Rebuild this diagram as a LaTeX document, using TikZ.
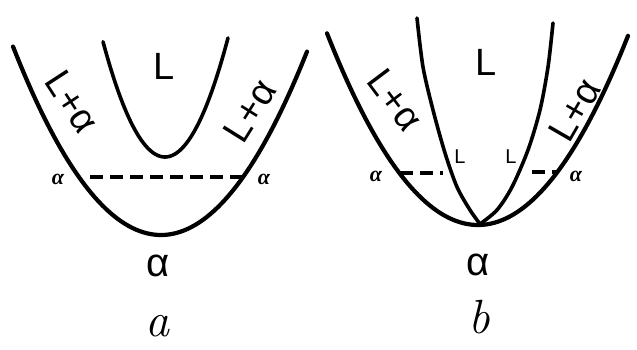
\documentclass[tikz,border=0pt]{standalone}
\usepackage{fontspec}
\newfontfamily\phasefont{Liberation Sans}
\newfontfamily\pointfont{Liberation Serif}
\begin{document}
\begin{tikzpicture}[
    x=0.5pt, y=-0.5pt,
    liquidus/.style={line width=1.8pt, line cap=round},
    solidus/.style={line width=2.1pt, line cap=round},
    tieline/.style={line width=2pt, dash pattern=on 6.5pt off 3.5pt},
    phase/.style={font=\phasefont\fontsize{19}{19}\selectfont, inner sep=0pt},
    region/.style={font=\phasefont\fontsize{20}{20}\selectfont, inner sep=0pt},
    endpt/.style={font=\pointfont\bfseries\itshape\fontsize{11}{11}\selectfont, inner sep=0pt},
    smallL/.style={font=\phasefont\fontsize{10}{10}\selectfont, inner sep=0pt},
    caption/.style={font=\itshape\fontsize{24}{24}\selectfont, inner sep=0pt, anchor=base}
]
\useasboundingbox (0,0) rectangle (637,349);

% ---------- panel a ----------
\draw[solidus, domain=13:307, samples=80] plot (\x, {235-0.0086*(\x-161)*(\x-161)});
\draw[liquidus, domain=103:228, samples=60] plot (\x, {157-0.03*(\x-165)*(\x-165)});
\coordinate (aTieL) at (90,177);
\coordinate (aTieR) at (243,177);
\draw[tieline] (aTieL) -- (aTieR);

\node[phase] (aLiq) at (164,66) {L};
\node[phase, rotate=-57] (aMixL) at (72,102) {L+α};
\node[phase, rotate=58] (aMixR) at (250,111) {L+α};
\node[endpt] (aEndL) at (58,179) {α};
\node[endpt] (aEndR) at (264,179) {α};
\node[region] (aSol) at (158,266) {α};
\node[caption] (aCap) at (157,336) {a};

% ---------- panel b ----------
\draw[solidus, domain=327:628, samples=80] plot (\x, {225-0.0084*(\x-478)*(\x-478)});
\draw[liquidus] plot[smooth] coordinates
      {(417,18) (423,67) (433,110) (445,153) (457,187) (470,210) (480,224)};
\draw[liquidus] plot[smooth] coordinates
      {(553,23) (548,67) (540,110) (528,150) (512,187) (497,210) (480,224)};
\coordinate (bTieLa) at (400,173);
\coordinate (bTieLb) at (443,173);
\coordinate (bTieRa) at (532,172);
\coordinate (bTieRb) at (558,172);
\draw[tieline] (bTieLa) -- (bTieLb);
\draw[tieline] (bTieRa) -- (bTieRb);

\node[phase] (bLiq) at (486,62) {L};
\node[phase, rotate=-53] (bMixL) at (395,100) {L+α};
\node[phase, rotate=60] (bMixR) at (575,110) {L+α};
\node[smallL] (bLiqL) at (460,157) {L};
\node[smallL] (bLiqR) at (511,157) {L};
\node[endpt] (bEndL) at (376,176) {α};
\node[endpt] (bEndR) at (576,176) {α};
\node[region] (bSol) at (478,265) {α};
\node[caption] (bCap) at (479,333) {b};

\end{tikzpicture}
\end{document}
